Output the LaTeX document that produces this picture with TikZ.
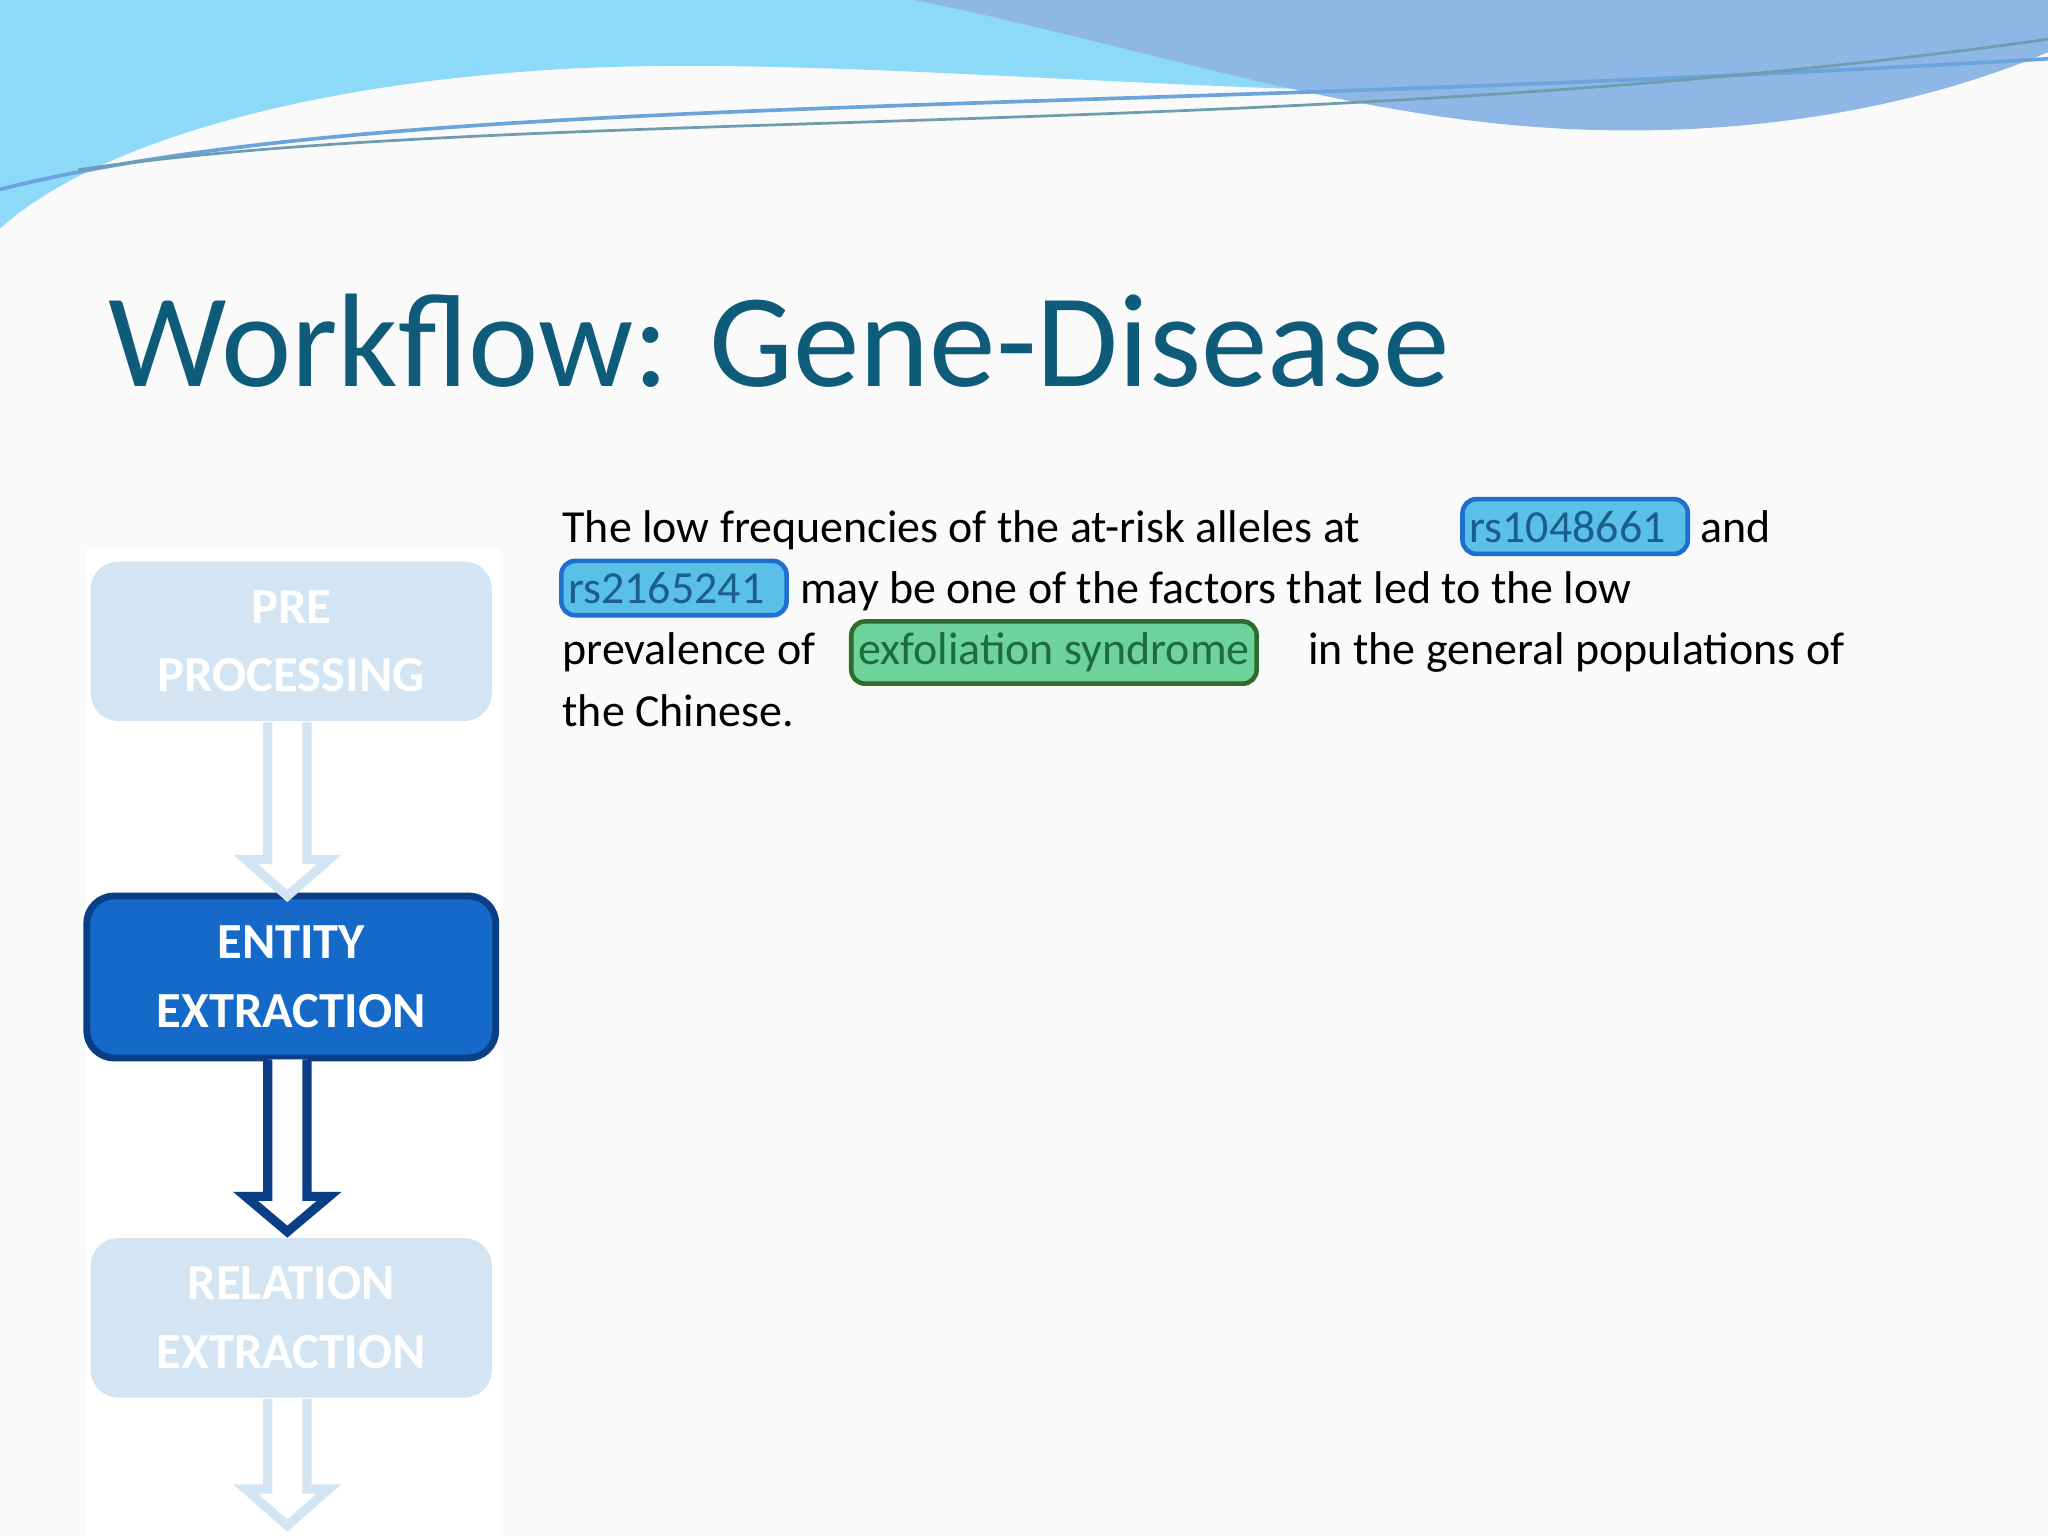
\documentclass[tikz,border=0pt]{standalone}
\usepackage{fontspec}
\setmainfont{Carlito}
\definecolor{titlec}{HTML}{0E5C7A}
\definecolor{fadebox}{HTML}{D3E4F3}
\definecolor{actbox}{HTML}{1469C9}
\definecolor{actdraw}{HTML}{0A3F85}
\definecolor{hlblue}{HTML}{5BC0E8}
\definecolor{hlbluedraw}{HTML}{1E6FD0}
\definecolor{hlgreen}{HTML}{6DD39A}
\definecolor{hlgreendraw}{HTML}{2E6B2E}
\definecolor{hltext}{HTML}{1A5E8A}
\definecolor{hlgtext}{HTML}{1E6B40}
\tikzset{
  stage/.style={rounded corners=6pt,minimum width=3.07cm,minimum height=1.22cm,align=center,font=\bfseries\fontsize{11}{15}\selectfont},
  faded/.style={stage,fill=fadebox,text=white},
  active/.style={stage,fill=actbox,draw=actdraw,line width=1.5pt,text=white,minimum width=3.13cm,minimum height=1.24cm},
  body/.style={inner sep=0pt,font=\fontsize{10}{12}\selectfont},
  hlb/.style={body,fill=hlblue,draw=hlbluedraw,line width=1pt,rounded corners=3pt,inner xsep=1.5pt,inner ysep=2.5pt,text=hltext},
  hlg/.style={body,fill=hlgreen,draw=hlgreendraw,line width=1pt,rounded corners=3pt,inner xsep=1.5pt,inner ysep=2.5pt,text=hlgtext},
}
\begin{document}
\begin{tikzpicture}[x=0.01cm,y=-0.01cm]
\fill[white!96!gray] (0,0) rectangle (1568,1176);
\useasboundingbox (0,0) rectangle (1568,1176);
% waves
\fill[cyan!45!white] (0,0) -- (1568,0) -- (1568,30) .. controls (1200,120) and (700,30) .. (400,55) .. controls (200,70) and (60,120) .. (0,175) -- cycle;
\fill[cyan!60!blue!45!white] (700,0) -- (1568,0) -- (1568,40) .. controls (1450,90) and (1300,110) .. (1150,95) .. controls (1000,80) and (850,30) .. (700,0) -- cycle;
\draw[cyan!60!blue!60,line width=0.8pt] (0,145) .. controls (300,70) and (800,90) .. (1568,45);
\draw[titlec!60,line width=0.6pt] (60,130) .. controls (400,80) and (1000,110) .. (1568,30);
% title
\node[anchor=base west,inner sep=0pt,text=titlec,font=\fontsize{29}{32}\selectfont] (title) at (82,296) {Workflow: Gene-Disease};
% side strip
\fill[white] (65,420) rectangle (383,1176);
% stages
\node[faded] (pre) at (223,491) {PRE\\PROCESSING};
\node[active] (ent) at (223,748) {ENTITY\\EXTRACTION};
\node[faded] (rel) at (223,1009) {RELATION\\EXTRACTION};
\draw[fadebox,line width=2pt,fill=white] (205,553) -- (205,658) -- (188,658) -- (220,686) -- (252,658) -- (235,658) -- (235,553);
\draw[actdraw,line width=2pt,fill=white] (205,811) -- (205,916) -- (188,916) -- (220,943) -- (252,916) -- (235,916) -- (235,811);
\draw[fadebox,line width=2pt,fill=white] (205,1071) -- (205,1140) -- (188,1140) -- (220,1168) -- (252,1140) -- (235,1140) -- (235,1071);
% text
\node[body,anchor=base west] (t1) at (430,415) {The low frequencies of the at-risk alleles at};
\node[hlb,anchor=base west] (h1) at (1118,415) {rs1048661\,\,};
\node[body,anchor=base west] (t1b) at (1301,415) {and};
\node[hlb,anchor=base west] (h2) at (428,462) {rs2165241\,\,};
\node[body,anchor=base west] (t2) at (612,462) {may be one of the factors that led to the low};
\node[body,anchor=base west] (t3) at (430,509) {prevalence of};
\node[hlg,anchor=base west] (h3) at (650,509) {exfoliation syndrome};
\node[body,anchor=base west] (t3b) at (1001,509) {in the general populations of};
\node[body,anchor=base west] (t4) at (430,556) {the Chinese.};
\end{tikzpicture}
\end{document}
